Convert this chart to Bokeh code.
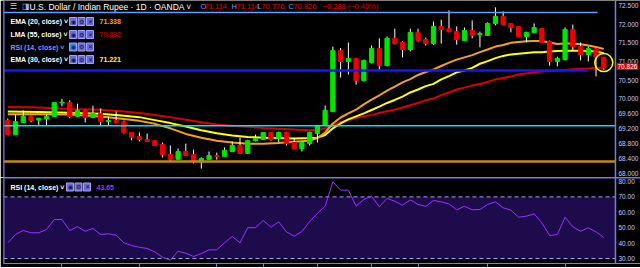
from bokeh.plotting import figure
from bokeh.models import (Range1d, FixedTicker, PrintfTickFormatter,
                          Label, BoxAnnotation, Span, ColumnDataSource)
from bokeh.layouts import column
from bokeh.embed import file_html
from bokeh.resources import INLINE

# ---------------- data ----------------
opens = [69.42, 69.04, 69.37, 69.53, 69.43, 69.46, 69.53, 69.89, 69.90, 69.53,
         69.69, 69.50, 69.61, 69.39, 69.42, 69.39, 69.10, 68.99, 68.91, 68.88,
         68.78, 68.51, 68.38, 68.59, 68.51, 68.35, 68.38, 68.48, 68.46, 68.59,
         68.75, 68.54, 68.88, 68.91, 69.10, 68.94, 69.10, 68.83, 68.67, 68.80,
         69.07, 69.29, 69.66, 71.29, 71.00, 71.08, 70.49, 70.97, 71.35, 70.89,
         71.62, 71.51, 71.32, 71.78, 71.59, 71.48, 71.94, 71.88, 71.80, 71.56,
         71.83, 71.72, 71.70, 72.02, 72.21, 72.02, 71.94, 71.67, 71.78, 71.88,
         71.54, 71.00, 71.05, 71.86, 71.40, 71.19, 71.35, 71.114]
highs = [69.47, 69.57, 69.69, 69.55, 69.49, 69.58, 69.91, 70.00, 69.96, 69.87,
         69.71, 69.82, 69.74, 69.53, 69.66, 69.42, 69.10, 69.10, 69.07, 68.89,
         68.83, 68.75, 68.67, 68.80, 68.64, 68.43, 68.59, 68.56, 68.70, 68.86,
         68.96, 68.90, 69.04, 69.11, 69.11, 69.12, 69.12, 68.96, 68.84, 69.12,
         69.30, 69.82, 71.40, 71.36, 71.51, 71.10, 71.05, 71.43, 71.62, 71.67,
         71.88, 71.54, 71.88, 71.88, 71.64, 72.07, 72.12, 72.37, 71.94, 71.91,
         72.10, 71.80, 72.05, 72.45, 72.34, 72.03, 71.94, 71.80, 72.02, 71.90,
         71.56, 71.13, 71.91, 71.99, 71.51, 71.40, 71.36, 71.114]
lows = [69.03, 69.03, 69.36, 69.37, 69.29, 69.29, 69.52, 69.80, 69.48, 69.52,
        69.37, 69.49, 69.29, 69.29, 69.36, 69.07, 68.89, 68.86, 68.85, 68.74,
        68.43, 68.32, 68.37, 68.47, 68.27, 68.13, 68.37, 68.37, 68.45, 68.58,
        68.53, 68.53, 68.86, 68.90, 68.88, 68.83, 68.75, 68.66, 68.59, 68.75,
        68.83, 69.28, 69.64, 70.57, 70.65, 70.38, 70.47, 70.95, 70.76, 70.87,
        71.46, 71.11, 71.27, 71.53, 71.43, 71.45, 71.48, 71.78, 71.45, 71.55,
        71.62, 71.38, 71.69, 71.97, 71.98, 71.78, 71.67, 71.51, 71.77, 71.50,
        70.89, 70.87, 71.03, 71.29, 71.03, 71.00, 70.60, 70.776]
closes = [69.04, 69.39, 69.53, 69.42, 69.48, 69.53, 69.90, 69.91, 69.53, 69.69,
          69.50, 69.61, 69.39, 69.42, 69.37, 69.10, 68.97, 68.91, 68.86, 68.75,
          68.51, 68.38, 68.59, 68.48, 68.32, 68.40, 68.48, 68.46, 68.62, 68.75,
          68.54, 68.88, 68.94, 69.10, 68.91, 69.10, 68.80, 68.67, 68.83, 69.10,
          69.29, 69.69, 71.29, 71.00, 71.08, 70.49, 71.03, 71.35, 70.89, 71.62,
          71.48, 71.32, 71.78, 71.56, 71.48, 71.94, 71.86, 71.80, 71.59, 71.83,
          71.70, 71.75, 72.02, 72.21, 71.99, 71.91, 71.67, 71.78, 71.91, 71.51,
          71.00, 71.08, 71.86, 71.40, 71.19, 71.35, 71.114, 70.826]

rsi = [40.2, 45.6, 48.2, 46.7, 46.7, 48.8, 55.3, 55.3, 48.2, 50.6,
       47.7, 49.5, 45.6, 46.0, 45.1, 40.2, 38.4, 37.3, 36.5, 34.3,
       30.8, 28.9, 34.7, 33.4, 31.3, 33.2, 35.6, 35.6, 40.2, 44.3,
       40.2, 50.0, 50.0, 54.7, 50.3, 53.8, 47.3, 44.5, 47.5, 54.0,
       59.3, 64.0, 79.8, 74.4, 74.4, 64.0, 68.3, 70.5, 63.6, 69.0,
       67.2, 64.6, 68.1, 65.1, 63.8, 67.7, 66.8, 65.5, 61.6, 64.0,
       61.6, 61.8, 65.1, 66.8, 62.9, 61.4, 56.8, 57.5, 59.0, 53.2,
       44.9, 45.6, 56.8, 50.6, 47.7, 49.9, 47.3, 43.65]

ma_idx = [0, 4, 8, 12, 15, 17, 19, 21, 23, 25, 27, 29, 31, 33, 35, 37, 39, 40,
          41, 42, 43, 44, 45, 46, 47, 48, 49, 50, 51, 52, 53, 54, 55, 56, 57, 58,
          59, 60, 61, 62, 63, 64, 65, 66, 67, 68, 69, 70, 71, 72, 73, 74, 75, 76, 77]
ema20 = [69.59, 69.59, 69.58, 69.53, 69.46, 69.41, 69.33, 69.21, 69.06, 68.96,
         68.88, 68.83, 68.80, 68.80, 68.82, 68.85, 68.88, 68.95,
         69.10, 69.34, 69.50, 69.61, 69.71, 69.85, 69.98, 70.09, 70.22, 70.33,
         70.44, 70.53, 70.64, 70.72, 70.79, 70.88, 70.97, 71.05, 71.11, 71.17,
         71.25, 71.32, 71.40, 71.44, 71.50, 71.52, 71.54, 71.55, 71.55, 71.51,
         71.47, 71.48, 71.48, 71.46, 71.43, 71.39, 71.338]
ema30 = [69.66, 69.65, 69.63, 69.60, 69.55, 69.51, 69.43, 69.35, 69.26, 69.16,
         69.08, 69.02, 68.98, 68.96, 68.95, 68.94, 68.95, 68.96,
         69.03, 69.21, 69.34, 69.45, 69.53, 69.61, 69.70, 69.79, 69.89, 69.97,
         70.06, 70.17, 70.25, 70.34, 70.40, 70.52, 70.61, 70.71, 70.76, 70.83,
         70.94, 71.01, 71.09, 71.15, 71.19, 71.21, 71.23, 71.25, 71.25, 71.27,
         71.28, 71.29, 71.29, 71.29, 71.28, 71.27, 71.221]
lma55 = [69.78, 69.77, 69.73, 69.71, 69.66, 69.62, 69.57, 69.51, 69.44, 69.37,
         69.31, 69.27, 69.25, 69.22, 69.20, 69.18, 69.16, 69.16,
         69.21, 69.29, 69.38, 69.43, 69.49, 69.53, 69.57, 69.62, 69.67, 69.71,
         69.77, 69.83, 69.89, 69.96, 70.01, 70.10, 70.17, 70.25, 70.30, 70.36,
         70.40, 70.45, 70.52, 70.56, 70.60, 70.65, 70.68, 70.71, 70.73, 70.75,
         70.76, 70.77, 70.79, 70.80, 70.81, 70.83, 70.832]

hlevels = [72.31, 70.76, 69.28, 68.32]
hcolors = ["#6a9bff", "#1515ff", "#00e1ff", "#c8880c"]
hwidths = [1.5, 2.5, 1.5, 2.5]
hends = [76.2, 75.0, 78.5, 78.5]

price_ticks = [68.0, 68.4, 68.8, 69.2, 69.6, 70.0, 70.5, 71.0, 71.5, 72.0, 72.5]
rsi_ticks = [30, 40, 50, 60, 70, 80]
time_ticks = [7, 17, 27, 33, 40, 47, 53, 62, 72]

# ---------------- build ----------------
n = len(closes)
xs = list(range(n))
UP, DN = "#00e600", "#ee0000"
src = ColumnDataSource(dict(
    x=xs, top=[max(o, c) for o, c in zip(opens, closes)],
    bottom=[min(o, c) for o, c in zip(opens, closes)],
    high=highs, low=lows,
    color=[UP if c >= o else DN for o, c in zip(opens, closes)]))

AX = "#7c7ce0"
LBL = "#c9c9ff"
FONT = "Liberation Sans"
SCALE_X = 78.51          # x (in bar units) where the price scale line sits

xr = Range1d(-0.556, 81.744)


def style_right(ax, ticks, fmt):
    ax.ticker = FixedTicker(ticks=ticks)
    ax.formatter = PrintfTickFormatter(format=fmt)
    ax.major_label_text_color = LBL
    ax.major_label_text_font_size = "6.5px"
    ax.major_label_text_font = FONT
    ax.axis_line_color = None
    ax.major_tick_line_color = None
    ax.minor_tick_line_color = None
    ax.major_tick_out = 0
    ax.major_tick_in = 0
    ax.major_label_standoff = -22


p1 = figure(frame_width=637, frame_height=177, x_range=xr, y_range=Range1d(67.893, 72.634),
            output_backend="svg", toolbar_location=None, y_axis_location="right",
            x_axis_location=None,
            min_border_left=3, min_border_right=0, min_border_top=0, min_border_bottom=0,
            background_fill_color="black", border_fill_color="black", outline_line_color=None)
p1.grid.visible = False
style_right(p1.yaxis[0], price_ticks, "%.3f")
p1.add_layout(Span(location=xr.start, dimension="height", line_color=AX, line_width=2))
p1.add_layout(Span(location=SCALE_X, dimension="height", line_color=AX, line_width=1.5))

# moving averages
p1.line(ma_idx, lma55, line_color="#d80000", line_width=2)
p1.line(ma_idx, ema30, line_color="#ffff00", line_width=2)
p1.line(ma_idx, ema20, line_color="#f5a020", line_width=2)

# candles
p1.segment(x0="x", y0="low", x1="x", y1="high", source=src, line_color="#ffffff", line_width=1)
p1.vbar(x="x", width=0.55, top="top", bottom="bottom", source=src,
        fill_color="color", line_color="color", line_width=1)

# drawn horizontal levels
for lv, col, w, e in zip(hlevels, hcolors, hwidths, hends):
    p1.segment(x0=[xr.start], y0=[lv], x1=[e], y1=[lv], line_color=col, line_width=w)

# highlight circle on last candle
p1.scatter([n - 1], [(opens[-1] + closes[-1]) / 2], marker="circle", size=18,
           fill_alpha=0, line_color="#ffff00", line_width=1.5)

FB1 = 177  # frame bottom (page px) of main panel


def lab(fig, fb, x, y, text, color, size="7px", style="normal", bg=None, border=None, pad=0):
    kw = {}
    if bg is not None:
        kw["background_fill_color"] = bg
        kw["padding"] = pad
    if border is not None:
        kw["border_line_color"] = border
    fig.add_layout(Label(x=x - 3, y=fb - y, x_units="screen", y_units="screen", text=text,
                         text_color=color, text_font_size=size, text_font=FONT,
                         text_font_style=style, text_baseline="middle", **kw))


# header
lab(p1, FB1, 9, 6, "☰", "#cfcfff", "8px")
lab(p1, FB1, 21, 6, "◨", "#9fa8ff", "8px")
lab(p1, FB1, 29, 6, "U.S. Dollar / Indian Rupee · 1D · OANDA ˅", "#ffffff", "8.5px")
ohlc = [("O", 200, "71.114", 204), ("H", 231, "71.114", 236),
        ("L", 257, "70.776", 261), ("C", 288, "70.826", 293)]
for k, kx, v, vx in ohlc:
    lab(p1, FB1, kx, 6, k, "#8f8fff", "7.5px")
    lab(p1, FB1, vx, 6, v, "#e00000", "7.5px")
lab(p1, FB1, 322, 6, "−0.288 (−0.40%)", "#e00000", "7.5px")


def icons(fig, fb, x0, y, first="#6a6ad8"):
    for j, g in enumerate(["◉", "⚙", "✕"]):
        lab(fig, fb, x0 + j * 8.5, y, g, "#15153a", "6px", bg=(first if j == 0 else "#6a6ad8"),
            border="#a0a0ff", pad=1)


rows = [("EMA (20, close) ˅", 21, "#ffffff", "71.338", "#f5a020"),
        ("LMA (55, close) ˅", 34, "#ffffff", "70.832", "#b00000"),
        ("RSI (14, close) ˅", 46.5, "#8a8aff", None, None),
        ("EMA (30, close) ˅", 59, "#ffffff", "71.221", "#ffff00")]
for t, y, c, v, vc in rows:
    lab(p1, FB1, 10, y, t, c, "7px", "bold")
    icons(p1, FB1, 69, y, "#2b8cff" if v is None else "#6a6ad8")
    if v:
        lab(p1, FB1, 99, y, v, vc, "7px", "bold")

# last price tag on the scale
lab(p1, FB1, 616, 66, "70.826", "#ffffff", "6.5px", bg="#e00000", pad=1)

# ---------------- RSI panel ----------------
p2 = figure(frame_width=637, frame_height=86, x_range=xr, y_range=Range1d(26.75, 82.6),
            output_backend="svg", toolbar_location=None, y_axis_location="right",
            min_border_left=3, min_border_right=0, min_border_top=0, min_border_bottom=4,
            background_fill_color="black", border_fill_color="black", outline_line_color=None)
p2.grid.visible = False
p2.add_layout(BoxAnnotation(bottom=30, top=70, left=xr.start, right=SCALE_X,
                            fill_color="#1d0b4c", fill_alpha=1, line_color=None, level="underlay"))
for lv in (70, 30):
    p2.segment(x0=[xr.start], y0=[lv], x1=[SCALE_X], y1=[lv], line_color="#a89cff",
               line_width=1, line_dash="4 3")
p2.line(xs, rsi, line_color="#9a33ff", line_width=1)
style_right(p2.yaxis[0], rsi_ticks, "%.2f")
p2.add_layout(Span(location=xr.start, dimension="height", line_color=AX, line_width=2))
p2.add_layout(Span(location=SCALE_X, dimension="height", line_color=AX, line_width=1.5))
p2.add_layout(Span(location=82.6, dimension="width", line_color=AX, line_width=2))

xa2 = p2.xaxis[0]
xa2.ticker = FixedTicker(ticks=time_ticks)
xa2.axis_line_color = AX
xa2.major_tick_line_color = AX
xa2.major_tick_out = 4
xa2.major_tick_in = 0
xa2.minor_tick_line_color = None
xa2.major_label_text_color = None
xa2.major_label_text_font_size = "1px"
xa2.major_label_standoff = 0

FB2 = 86  # frame bottom within RSI canvas
lab(p2, FB2, 10, 186.5 - 177, "RSI (14, close) ˅", "#ffffff", "7px", "bold")
icons(p2, FB2, 66, 186.5 - 177)
lab(p2, FB2, 96, 186.5 - 177, "43.65", "#9a33ff", "7px", "bold")

layout = column(p1, p2, spacing=0)
open("out.html", "w").write(file_html(layout, INLINE))
